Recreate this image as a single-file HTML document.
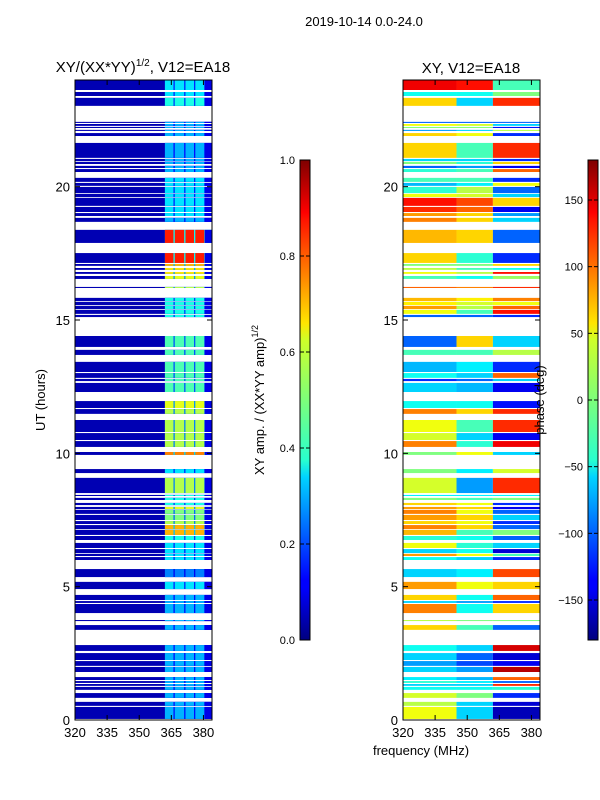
<!DOCTYPE html>
<html><head><meta charset="utf-8"><style>
body{margin:0;background:#fff;}
svg{display:block;font-family:"Liberation Sans","DejaVu Sans",sans-serif;}
</style></head><body>
<svg id="fig" width="600" height="800" viewBox="0 0 600 800" xmlns="http://www.w3.org/2000/svg">
<defs>
<linearGradient id="jet" x1="0" y1="1" x2="0" y2="0">
<stop offset="0" stop-color="#00007f"/><stop offset="0.11" stop-color="#0000ff"/><stop offset="0.125" stop-color="#0000ff"/>
<stop offset="0.34" stop-color="#00d4ff"/><stop offset="0.375" stop-color="#29ffce"/><stop offset="0.5" stop-color="#7dff7a"/>
<stop offset="0.625" stop-color="#ceff29"/><stop offset="0.66" stop-color="#ffe500"/><stop offset="0.875" stop-color="#ff1400"/>
<stop offset="0.89" stop-color="#ff0000"/><stop offset="1" stop-color="#7f0000"/>
</linearGradient>
</defs>
<text x="364" y="26" font-size="13" text-anchor="middle">2019-10-14 0.0-24.0</text>
<text x="143" y="72" font-size="15" text-anchor="middle">XY/(XX*YY)<tspan font-size="10" dy="-6">1/2</tspan><tspan dy="6">, V12=EA18</tspan></text>
<text x="471" y="73" font-size="15" text-anchor="middle">XY, V12=EA18</text>
<g id="ampPanel"></g>
<g id="phasePanel"></g>
<g id="axes"></g>
<text transform="translate(45,400) rotate(-90)" font-size="13" text-anchor="middle">UT (hours)</text>
<text x="421" y="755" font-size="13" text-anchor="middle">frequency (MHz)</text>
<rect x="300" y="160" width="10" height="480" fill="url(#jet)" stroke="#000" stroke-width="1"/>
<rect x="588" y="160" width="10" height="480" fill="url(#jet)" stroke="#000" stroke-width="1"/>
<text transform="translate(264,400) rotate(-90)" font-size="13" text-anchor="middle">XY amp. / (XX*YY amp)<tspan font-size="9" dy="-6">1/2</tspan></text>
<text transform="translate(544,400) rotate(-90)" font-size="13" text-anchor="middle">phase (deg)</text>
<g id="cbars"></g>
</svg>
<script>
// ---- data ----
const segLo=[23.625,23.4,23.03,22.39,22.28,22.2,22.09,21.9,21.08,20.96,20.85,20.7,20.55,20.18,20.03,19.76,19.61,19.28,19.05,18.9,18.68,17.89,17.14,17.03,16.88,16.73,16.54,16.2,15.71,15.56,15.41,15.23,15.11,13.99,13.69,13.05,12.83,12.71,12.3,11.7,11.48,10.8,10.5,10.24,9.94,9.26,8.51,8.4,8.25,8.06,7.91,7.73,7.5,7.35,7.16,6.94,6.75,6.45,6.26,6.15,6.0,5.36,4.91,4.5,4.39,4.01,3.71,3.38,2.59,2.25,2.03,1.8,1.5,1.39,1.28,1.13,0.83,0.53,0.04];
const segHi=[24,23.55,23.33,22.43,22.35,22.24,22.13,22.01,21.64,21.04,20.93,20.78,20.66,20.33,20.14,19.99,19.73,19.58,19.24,19.01,18.83,18.38,17.51,17.1,16.95,16.8,16.65,16.24,15.83,15.68,15.53,15.38,15.19,14.4,13.88,13.43,13.01,12.79,12.64,11.96,11.66,11.25,10.76,10.46,10.05,9.41,9.08,8.44,8.33,8.14,7.99,7.88,7.69,7.46,7.31,7.13,6.9,6.64,6.41,6.23,6.11,5.66,5.18,4.69,4.46,4.35,3.75,3.56,2.81,2.51,2.21,1.99,1.61,1.46,1.35,1.24,1.01,0.68,0.49];
const bandAmp=[.35,.35,.4,.3,.3,.3,.3,.3,.3,.3,.3,.3,.3,.35,.35,.35,.35,.35,.35,.35,.3,.85,.85,.7,.65,.65,.6,.55,.4,.4,.4,.4,.4,.45,.45,.45,.45,.45,.45,.6,.55,.55,.55,.55,.75,.35,.55,.4,.4,.4,.6,.5,.5,.55,.7,.7,.4,.35,.35,.35,.35,.25,.35,.3,.3,.3,.3,.3,.3,.3,.3,.3,.3,.3,.3,.3,.3,.3,.3];
const bgAmp=0.05;
const phaseLow=[140,-40,60,-100,40,0,-80,60,60,-60,0,-100,-30,-20,-70,-30,40,130,120,80,90,70,60,0,20,40,-20,100,70,50,80,40,-100,-100,-20,-70,-40,-120,-60,-40,90,40,30,90,0,0,30,-50,0,60,80,90,80,60,90,70,-30,40,-60,80,-40,-60,80,60,-60,90,20,60,-40,-60,-80,-60,-50,-30,-60,-40,30,20,40];
const phaseMid=[130,-40,-60,-100,30,0,-60,40,-20,-60,-30,-80,-20,-20,-50,20,30,110,100,60,60,60,-30,0,-20,20,-40,90,50,30,20,-20,-100,60,-20,-50,-60,-100,-70,-40,60,-20,-60,-30,40,-50,-80,-50,-20,40,60,40,60,40,60,-20,-40,-30,-40,40,-60,-50,40,-40,-80,-40,0,-20,-60,-100,-110,-80,-70,-50,-60,-40,0,-60,-60];
const phaseHigh=[-20,0,120,-100,-60,-130,20,-120,120,-120,60,-140,100,-120,40,-100,-60,60,-140,-80,-60,-100,-120,60,-40,130,10,120,90,40,100,130,-120,-60,20,-120,100,-60,-140,-130,120,120,-140,140,-60,30,120,-50,0,-120,-140,-100,-60,-120,-100,0,-100,-60,-150,-20,-120,110,60,100,-120,60,0,-100,150,-150,-140,160,100,-100,120,-30,-120,-150,-160];
const xTicks=[320,335,350,365,380];
const yTicks=[0,5,10,15,20];
const ampTicks=[0.0,0.2,0.4,0.6,0.8,1.0];
const phTicks=[-150,-100,-50,0,50,100,150];
// freq zones
const bandEdges=[[362,366],[366.6,371],[371.6,375.6],[376.2,380.4]];
const phaseZones=[[320,345],[345,362],[362,384]];

// ---- scales ----
const NS="http://www.w3.org/2000/svg";
const PT=80,PB=720,FMIN=320,FMAX=384;
function yS(h){return PB-(h/24)*(PB-PT);}
function xS(f,x0){return x0+(f-FMIN)/(FMAX-FMIN)*137;}
function jet(v){v=Math.max(0,Math.min(1,v));
 const r=Math.max(0,Math.min(1,1.5-Math.abs(4*v-3))),g=Math.max(0,Math.min(1,1.5-Math.abs(4*v-2))),b=Math.max(0,Math.min(1,1.5-Math.abs(4*v-1)));
 return `rgb(${Math.round(r*255)},${Math.round(g*255)},${Math.round(b*255)})`;}
function mk(tag,attrs,parent){const e=document.createElementNS(NS,tag);for(const k in attrs)e.setAttribute(k,attrs[k]);parent.appendChild(e);return e;}

const amp=document.getElementById('ampPanel'),ph=document.getElementById('phasePanel');
for(let i=0;i<segLo.length;i++){
 const y1=yS(segHi[i]),y2=yS(segLo[i]),h=Math.max(1,y2-y1);
 let r=mk('rect',{x:xS(FMIN,75),y:y1,width:xS(FMAX,75)-75,height:h,fill:jet(bgAmp)},amp);
 
 
 r=mk('rect',{x:xS(362,75),y:y1,width:xS(384,75)-xS(362,75),height:h,fill:jet(bandAmp[i]*0.45)},amp);
 
 
 for(const b of bandEdges){
  r=mk('rect',{x:xS(b[0],75),y:y1,width:xS(b[1],75)-xS(b[0],75),height:h,fill:jet(bandAmp[i])},amp);
  
  
 }
 r=mk('rect',{x:xS(380.6,75),y:y1,width:xS(384,75)-xS(380.6,75),height:h,fill:jet(0.1)},amp);
 
 
 const pv=[phaseLow[i],phaseMid[i],phaseHigh[i]];
 phaseZones.forEach((z,k)=>{
  const c=mk('rect',{x:xS(z[0],403),y:y1,width:xS(z[1],403)-xS(z[0],403),height:h,fill:jet((pv[k]+180)/360)},ph);
  
  
 });
}

// ---- axes ----
const ax=document.getElementById('axes');
[75,403].forEach((x0,pi)=>{
 const fr=mk('rect',{x:x0,y:PT,width:137,height:PB-PT,fill:'none',stroke:'#000','stroke-width':1},ax);
 
 
 xTicks.forEach(t=>{const x=xS(t,x0);
  mk('line',{x1:x,y1:PB,x2:x,y2:PB-5,stroke:'#000'},ax);
  mk('line',{x1:x,y1:PT,x2:x,y2:PT+5,stroke:'#000'},ax);
  const tx=mk('text',{x:x,y:PB+17,'font-size':13,'text-anchor':'middle'},ax);tx.textContent=t;
  
  
 });
 yTicks.forEach(t=>{const y=yS(t);
  mk('line',{x1:x0,y1:y,x2:x0+5,y2:y,stroke:'#000'},ax);
  mk('line',{x1:x0+137,y1:y,x2:x0+132,y2:y,stroke:'#000'},ax);
  const tx=mk('text',{x:x0-5,y:y+5,'font-size':13,'text-anchor':'end'},ax);tx.textContent=t;
  
  
 });
});
const cb=document.getElementById('cbars');
ampTicks.forEach(t=>{const y=640-t*480;
 mk('line',{x1:300,y1:y,x2:304,y2:y,stroke:'#000'},cb);mk('line',{x1:310,y1:y,x2:306,y2:y,stroke:'#000'},cb);
 const tx=mk('text',{x:295,y:y+4,'font-size':11,'text-anchor':'end'},cb);tx.textContent=t.toFixed(1);
 
 
});
phTicks.forEach(t=>{const y=640-(t+180)/360*480;
 mk('line',{x1:588,y1:y,x2:592,y2:y,stroke:'#000'},cb);mk('line',{x1:598,y1:y,x2:594,y2:y,stroke:'#000'},cb);
 const tx=mk('text',{x:583,y:y+4,'font-size':11,'text-anchor':'end'},cb);tx.textContent=t<0?'\u2212'+(-t):t;
 
 
});
</script>
</body></html>
